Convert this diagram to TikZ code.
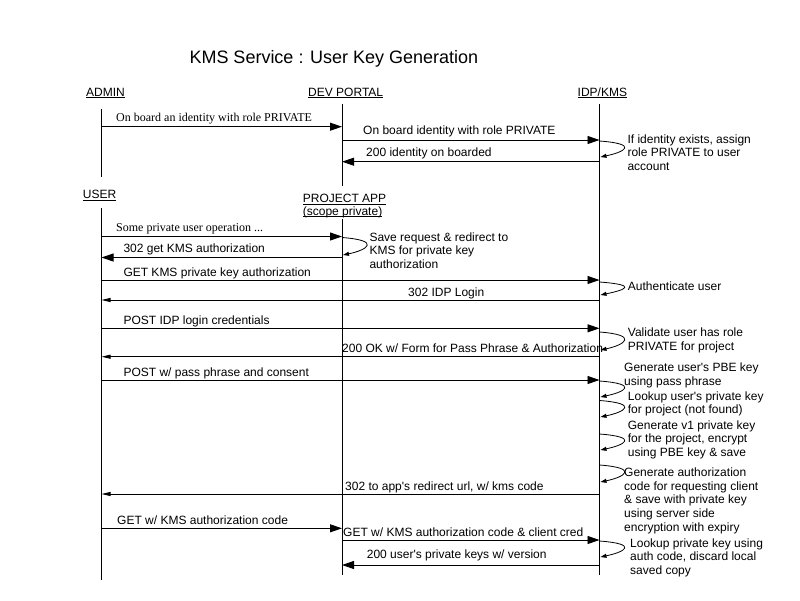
\documentclass[tikz,border=0pt]{standalone}
\usepackage{fontspec}
\setmainfont{Liberation Sans}
\newfontfamily\serifft{Liberation Serif}
\usetikzlibrary{arrows.meta,calc}
\newcommand\ulhdr[1]{\setbox0\hbox{#1}\rlap{\rule[-2pt]{\wd0}{0.8pt}}\box0}
\newcommand\apo{\textquotesingle}
\newcommand\sloop[3]{\draw[selfl] (#1 |- 0,#2) .. controls ($(#1 |- 0,#2)+(40,3)$) and ($(#1 |- 0,#3)+(25,-5)$) .. ($(#1 |- 0,#3)+(1,0)$);}
\begin{document}
\begin{tikzpicture}[x=1pt,y=-1pt,
  txt/.style={inner sep=0pt, anchor=base west, font=\fontsize{12}{13.6}\selectfont, align=left},
  stxt/.style={inner sep=0pt, anchor=base west, font=\serifft\fontsize{12}{13.6}\selectfont},
  life/.style={line width=0.9pt, black},
  msg/.style={line width=0.9pt, -{Triangle[length=12pt,width=8pt]}},
  msgs/.style={line width=0.9pt, -{Triangle[length=9pt,width=4pt]}},
  selfl/.style={line width=0.8pt, -{Triangle[length=6pt,width=4pt]}}]
\useasboundingbox (0,0) rectangle (800,600);
\fill[white] (0,0) rectangle (800,600);

% title
\node[txt, font=\fontsize{18}{20}\selectfont] (title) at (189.3,63.3) {KMS Service : User Key Generation};

% headers (multi-line nodes: base = last line)
\node[txt] (hadmin) at (86,96) {\ulhdr{ADMIN}};
\node[txt] (hdev) at (308,96) {\ulhdr{DEV PORTAL}};
\node[txt] (hidp) at (577.5,96) {\ulhdr{IDP/KMS}};
\node[txt] (huser) at (82.7,198.6) {\ulhdr{USER}};
\node[txt, font=\fontsize{12}{12.5}\selectfont] (happ) at (302.7,215) {\ulhdr{PROJECT APP}\\\ulhdr{(scope private)}};

% lifelines
\coordinate (A) at (101.5,109); \coordinate (Ae) at (101.5,177);
\coordinate (D) at (342,104);   \coordinate (De) at (342,186);
\coordinate (I) at (599.5,104); \coordinate (Ie) at (599.5,575);
\coordinate (U) at (101.5,208); \coordinate (Ue) at (101.5,580);
\coordinate (P) at (342,219);   \coordinate (Pe) at (342,575);
\draw[life] (A) -- (Ae);
\draw[life] (D) -- (De);
\draw[life] (I) -- (Ie);
\draw[life] (U) -- (Ue);
\draw[life] (P) -- (Pe);

% messages
\draw[msg] (A |- 0,126.7) -- (D |- 0,126.7);
\node[stxt] (l1) at (116,121) {On board an identity with role PRIVATE};
\draw[msg] (D |- 0,140) -- (I |- 0,140);
\node[txt] (l2) at (363,134.4) {On board identity with role PRIVATE};
\sloop{I}{141}{157}
\node[txt] (n1) at (627.3,170.2) {If identity exists, assign\\role PRIVATE to user\\account};
\draw[msg] (I |- 0,161.7) -- (D |- 0,161.7);
\node[txt] (l4) at (366,156.6) {200 identity on boarded};

\draw[msg] (U |- 0,236.5) -- (P |- 0,236.5);
\node[stxt] (l5) at (116,231.5) {Some private user operation ...};
\sloop{P}{237.5}{255}
\node[txt] (n2) at (369.3,268.2) {Save request \& redirect to\\KMS for private key\\authorization};
\draw[msg] (P |- 0,257.5) -- (U |- 0,257.5);
\node[txt] (l7) at (123.3,252.5) {302 get KMS authorization};

\draw[msg] (U |- 0,280) -- (I |- 0,280);
\node[txt] (l8) at (123.3,276) {GET KMS private key authorization};
\sloop{I}{282}{295}
\node[txt] (n3) at (627.7,290) {Authenticate user};
\draw[msgs] (I |- 0,300) -- (U |- 0,300);
\node[txt] (l10) at (408,296.3) {302 IDP Login};

\draw[msg] (U |- 0,328.3) -- (I |- 0,328.3);
\node[txt] (l11) at (123.3,324) {POST IDP login credentials};
\sloop{I}{332}{350}
\node[txt] (n4) at (627.7,350.3) {Validate user has role\\PRIVATE for project};
\draw[msgs] (I |- 0,356.7) -- (U |- 0,356.7);
\node[txt] (l13) at (342,352.5) {200 OK w/ Form for Pass Phrase \& Authorization};

\draw[msg] (U |- 0,380) -- (I |- 0,380);
\node[txt] (l14) at (123.3,376.8) {POST w/ pass phrase and consent};
\sloop{I}{381}{397}
\node[txt] (n5) at (624,385.3) {Generate user\apo s PBE key\\using pass phrase};
\sloop{I}{400.5}{417}
\node[txt] (n6) at (627.7,413.6) {Lookup user\apo s private key\\for project (not found)};
\sloop{I}{434}{450}
\node[txt] (n7) at (627.7,456.5) {Generate v1 private key\\for the project, encrypt\\using PBE key \& save};
\sloop{I}{465}{482}
\node[txt] (n8) at (624,531.1) {Generate authorization\\code for requesting client\\\& save with private key\\using server side\\encryption with expiry};
\draw[msgs] (I |- 0,494) -- (U |- 0,494);
\node[txt] (l19) at (345,490) {302 to app\apo s redirect url, w/ kms code};

\draw[msg] (U |- 0,528.3) -- (P |- 0,528.3);
\node[txt] (l20) at (117,524) {GET w/ KMS authorization code};
\draw[msg] (P |- 0,540) -- (I |- 0,540);
\node[txt] (l21) at (343,536) {GET w/ KMS authorization code \& client cred};
\sloop{I}{541}{557}
\node[txt] (n9) at (630,574.5) {Lookup private key using\\auth code, discard local\\saved copy};
\draw[msg] (I |- 0,565) -- (P |- 0,565);
\node[txt] (l23) at (366.7,558.7) {200 user\apo s private keys w/ version};
\end{tikzpicture}
\end{document}
